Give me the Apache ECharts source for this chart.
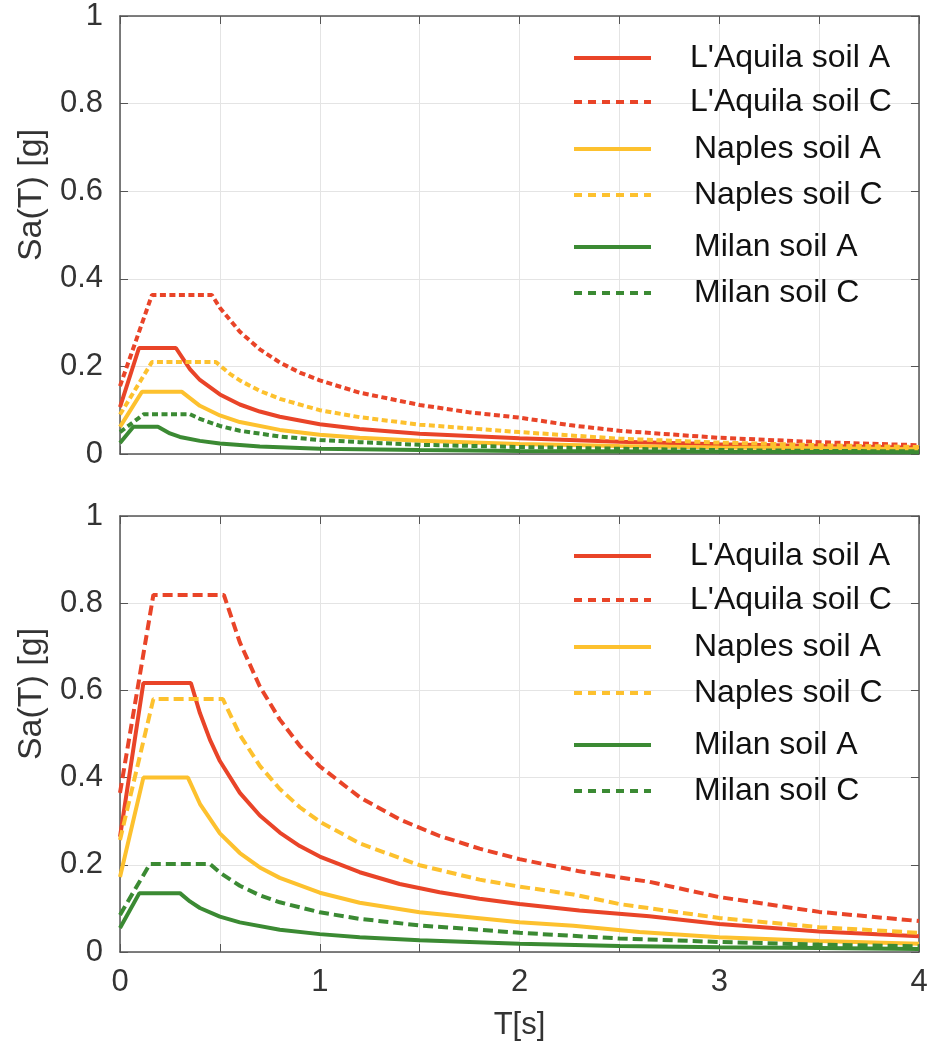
<!DOCTYPE html>
<html>
<head>
<meta charset="utf-8">
<title>Sa(T) spectra</title>
<script src="https://cdn.jsdelivr.net/npm/echarts@6/dist/echarts.min.js"></script>
<style>
  html, body { margin: 0; padding: 0; background: #fff; }
  #chart { width: 942px; height: 1046px; }
</style>
</head>
<body>
<div id="chart"></div>
<script>
const seriesNames = ["L'Aquila soil A", "L'Aquila soil C", 'Naples soil A', 'Naples soil C', 'Milan soil A', 'Milan soil C'];
const seriesColors = ['#e94428', '#e94428', '#fdc12e', '#fdc12e', '#3b8a33', '#3b8a33'];
const seriesDashed = [false, true, false, true, false, true];
const xTicks = [0, 1, 2, 3, 4];

// upper panel, points [T (s), Sa (g)]
const topAquilaA = [[0, 0.107], [0.095, 0.242], [0.28, 0.242], [0.35, 0.194], [0.4, 0.169], [0.5, 0.136], [0.6, 0.113], [0.7, 0.097], [0.8, 0.085], [1.0, 0.068], [1.2, 0.057], [1.5, 0.046], [2.0, 0.036], [2.5, 0.028], [3.0, 0.022], [3.5, 0.018], [4.0, 0.014]];
const topAquilaC = [[0, 0.155], [0.16, 0.363], [0.46, 0.363], [0.5, 0.334], [0.6, 0.279], [0.7, 0.239], [0.8, 0.209], [0.9, 0.186], [1.0, 0.168], [1.2, 0.14], [1.5, 0.112], [1.75, 0.095], [2.0, 0.083], [2.25, 0.066], [2.5, 0.053], [3.0, 0.037], [3.5, 0.027], [4.0, 0.02]];
const topNaplesA = [[0, 0.062], [0.11, 0.142], [0.31, 0.142], [0.4, 0.11], [0.5, 0.088], [0.6, 0.073], [0.8, 0.055], [1.0, 0.044], [1.2, 0.037], [1.5, 0.03], [2.0, 0.023], [2.5, 0.018], [3.0, 0.015], [3.5, 0.013], [4.0, 0.011]];
const topNaplesC = [[0, 0.09], [0.16, 0.21], [0.48, 0.21], [0.55, 0.183], [0.6, 0.168], [0.7, 0.144], [0.8, 0.126], [1.0, 0.1], [1.2, 0.084], [1.5, 0.067], [2.0, 0.05], [2.5, 0.035], [3.0, 0.026], [3.5, 0.02], [4.0, 0.016]];
const topMilanA = [[0, 0.025], [0.067, 0.062], [0.19, 0.062], [0.25, 0.047], [0.3, 0.039], [0.4, 0.03], [0.5, 0.024], [0.7, 0.017], [1.0, 0.012], [1.5, 0.009], [2.0, 0.007], [3.0, 0.005], [4.0, 0.004]];
const topMilanC = [[0, 0.05], [0.12, 0.091], [0.35, 0.091], [0.4, 0.08], [0.5, 0.064], [0.6, 0.053], [0.8, 0.04], [1.0, 0.032], [1.2, 0.027], [1.5, 0.021], [2.0, 0.016], [2.5, 0.012], [3.0, 0.009], [3.5, 0.007], [4.0, 0.006]];

// lower panel
const botAquilaA = [[0, 0.264], [0.117, 0.617], [0.355, 0.617], [0.4, 0.548], [0.45, 0.487], [0.5, 0.438], [0.6, 0.365], [0.7, 0.313], [0.8, 0.274], [0.9, 0.243], [1.0, 0.219], [1.2, 0.183], [1.4, 0.156], [1.6, 0.137], [1.8, 0.122], [2.0, 0.11], [2.3, 0.095], [2.65, 0.082], [3.0, 0.064], [3.5, 0.047], [4.0, 0.036]];
const botAquilaC = [[0, 0.365], [0.167, 0.819], [0.52, 0.819], [0.6, 0.71], [0.7, 0.609], [0.8, 0.533], [0.9, 0.473], [1.0, 0.426], [1.2, 0.355], [1.4, 0.304], [1.6, 0.266], [1.8, 0.237], [2.0, 0.213], [2.3, 0.185], [2.65, 0.161], [3.0, 0.126], [3.5, 0.092], [4.0, 0.071]];
const botNaplesA = [[0, 0.172], [0.117, 0.4], [0.34, 0.4], [0.4, 0.34], [0.5, 0.272], [0.6, 0.227], [0.7, 0.194], [0.8, 0.17], [1.0, 0.136], [1.2, 0.113], [1.5, 0.091], [2.0, 0.068], [2.27, 0.06], [2.6, 0.046], [3.0, 0.034], [3.5, 0.025], [4.0, 0.019]];
const botNaplesC = [[0, 0.257], [0.167, 0.58], [0.515, 0.58], [0.6, 0.498], [0.7, 0.427], [0.8, 0.374], [0.9, 0.332], [1.0, 0.299], [1.2, 0.249], [1.5, 0.199], [1.8, 0.166], [2.0, 0.15], [2.27, 0.132], [2.5, 0.11], [3.0, 0.078], [3.5, 0.057], [4.0, 0.044]];
const botMilanA = [[0, 0.055], [0.097, 0.135], [0.3, 0.135], [0.35, 0.116], [0.4, 0.101], [0.5, 0.081], [0.6, 0.068], [0.8, 0.051], [1.0, 0.041], [1.2, 0.034], [1.5, 0.027], [2.0, 0.019], [2.5, 0.014], [3.0, 0.011], [3.5, 0.009], [4.0, 0.007]];
const botMilanC = [[0, 0.085], [0.15, 0.202], [0.45, 0.202], [0.5, 0.182], [0.6, 0.152], [0.7, 0.13], [0.8, 0.114], [1.0, 0.091], [1.2, 0.076], [1.5, 0.061], [1.8, 0.051], [2.0, 0.044], [2.5, 0.031], [3.0, 0.023], [3.5, 0.017], [4.0, 0.013]];

const topData = [topAquilaA, topAquilaC, topNaplesA, topNaplesC, topMilanA, topMilanC];
const botData = [botAquilaA, botAquilaC, botNaplesA, botNaplesC, botMilanA, botMilanC];

const FONT = "'Liberation Sans', Arial, sans-serif";
const AXIS_COLOR = '#555';

function bottomAxis(grid, withLabels) {
  return {
    type: 'value', gridIndex: grid, min: 0, max: 4, interval: 0.5,
    axisLine: { show: true, onZero: false, lineStyle: { color: AXIS_COLOR, width: 1.5 } },
    axisTick: { show: true, inside: true, length: 8, lineStyle: { color: AXIS_COLOR } },
    axisLabel: {
      show: withLabels, margin: 15, fontSize: 31, color: '#333', fontFamily: FONT,
      formatter: v => (xTicks.indexOf(v) >= 0 ? String(v) : '')
    },
    splitLine: { show: true, lineStyle: { color: '#e4e4e4', width: 1 } },
    name: withLabels ? 'T[s]' : '',
    nameLocation: 'middle', nameGap: 58,
    nameTextStyle: { fontSize: 31, color: '#333', fontFamily: FONT }
  };
}

function topAxis(grid) {
  return {
    type: 'value', gridIndex: grid, position: 'top', min: 0, max: 4, interval: 0.5,
    axisLine: { show: true, onZero: false, lineStyle: { color: AXIS_COLOR, width: 1.5 } },
    axisTick: { show: true, inside: true, length: 8, lineStyle: { color: AXIS_COLOR } },
    axisLabel: { show: false },
    splitLine: { show: false }
  };
}

function leftAxis(grid) {
  return {
    type: 'value', gridIndex: grid, min: 0, max: 1, interval: 0.2,
    axisLine: { show: true, onZero: false, lineStyle: { color: AXIS_COLOR, width: 1.5 } },
    axisTick: { show: true, inside: true, length: 8, lineStyle: { color: AXIS_COLOR } },
    axisLabel: { margin: 17, fontSize: 31, color: '#333', fontFamily: FONT },
    splitLine: { show: true, lineStyle: { color: '#e4e4e4', width: 1 } },
    name: 'Sa(T) [g]', nameLocation: 'middle', nameGap: 64,
    // title sits a little above the middle of the axis in the original
    nameTextStyle: { fontSize: 34, color: '#333', fontFamily: FONT, padding: [0, 0, 0, 80] }
  };
}

function rightAxis(grid) {
  return {
    type: 'value', gridIndex: grid, position: 'right', min: 0, max: 1, interval: 0.2,
    axisLine: { show: true, onZero: false, lineStyle: { color: AXIS_COLOR, width: 1.5 } },
    axisTick: { show: true, inside: true, length: 8, lineStyle: { color: AXIS_COLOR } },
    axisLabel: { show: false },
    splitLine: { show: false }
  };
}

function makeSeries(list, axisIdx, dash) {
  return list.map((pts, i) => ({
    type: 'line',
    name: seriesNames[i],
    xAxisIndex: axisIdx,
    yAxisIndex: axisIdx,
    data: pts,
    symbol: 'none',
    silent: true,
    lineStyle: { color: seriesColors[i], width: 4, type: seriesDashed[i] ? dash : 'solid' },
    itemStyle: { color: seriesColors[i] }
  }));
}

// legend rows sit at uneven heights, so one legend per row
const legendRows = [58, 102, 149, 195, 247, 293];
const legendPad = [34, 34, 38, 38, 38, 38];

function makeLegends(offsetY) {
  return seriesNames.map((name, i) => ({
    data: [name],
    left: 572,
    top: legendRows[i] + offsetY - 16,
    padding: 0,
    orient: 'vertical',
    selectedMode: false,
    itemWidth: 77,
    itemHeight: 14,
    itemStyle: { opacity: 0 },
    lineStyle: { width: 4, type: seriesDashed[i] ? [8, 6] : 'solid', color: seriesColors[i] },
    textStyle: { fontSize: 32, lineHeight: 32, color: '#111', fontFamily: FONT, padding: [0, 0, 0, legendPad[i]] }
  }));
}

const myChart = echarts.init(document.getElementById('chart'), null, { renderer: 'canvas' });

const option = {
  backgroundColor: '#fff',
  animation: false,
  grid: [
    { left: 120, top: 16, width: 799, height: 438 },
    { left: 120, top: 516, width: 799, height: 436 }
  ],
  xAxis: [bottomAxis(0, false), topAxis(0), bottomAxis(1, true), topAxis(1)],
  yAxis: [leftAxis(0), rightAxis(0), leftAxis(1), rightAxis(1)],
  legend: makeLegends(0).concat(makeLegends(498)),
  series: makeSeries(topData, 0, [6, 3.5]).concat(makeSeries(botData, 2, [10, 5]))
};

myChart.setOption(option);
</script>
</body>
</html>
